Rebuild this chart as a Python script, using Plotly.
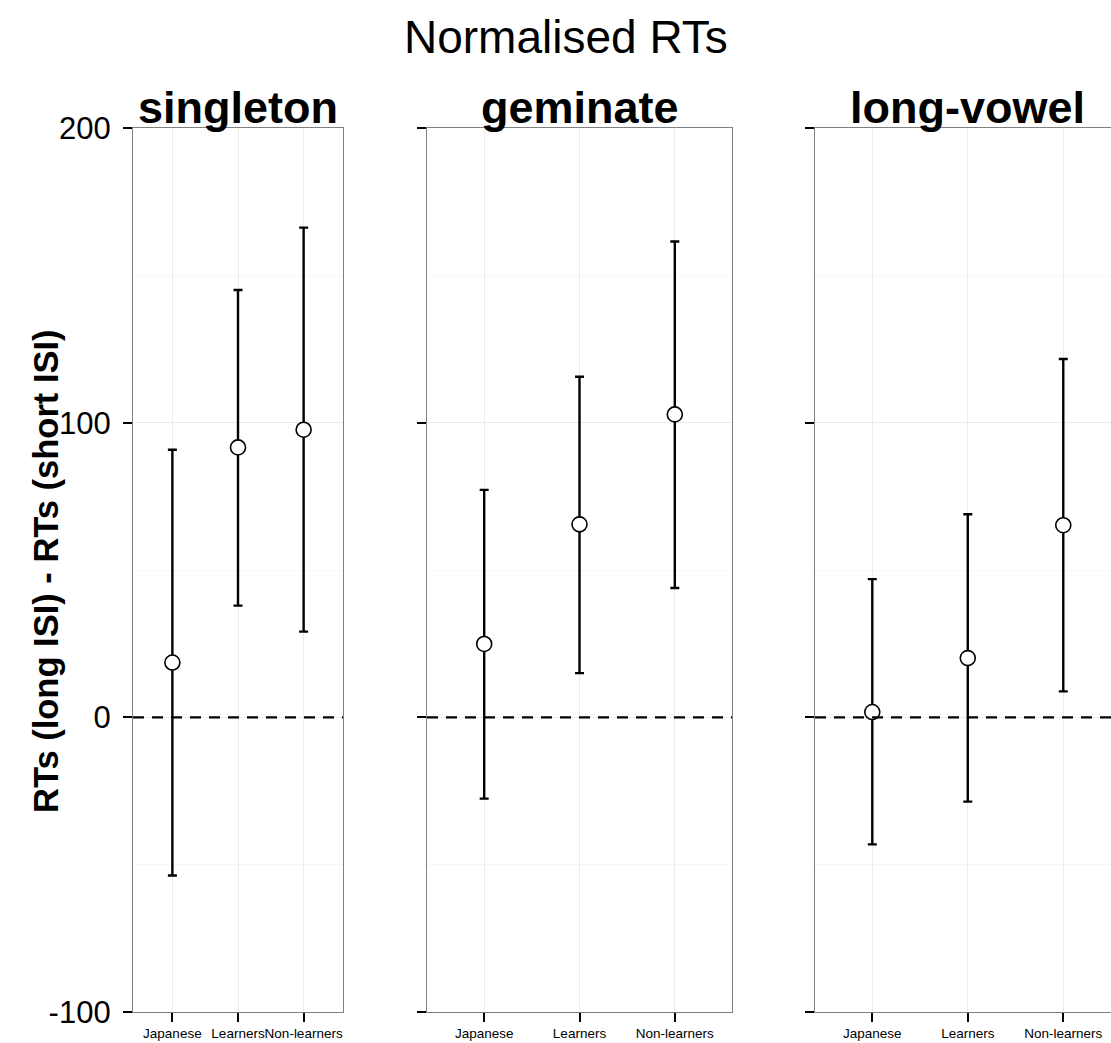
import plotly.graph_objects as go

W, H = 1111, 1043

groups = ["Japanese", "Learners", "Non-learners"]
facets = ["singleton", "geminate", "long-vowel"]

singleton_mean = [18.6, 91.6, 97.6]
singleton_upper = [90.8, 145.0, 166.2]
singleton_lower = [-53.7, 37.9, 29.1]

geminate_mean = [24.9, 65.5, 102.8]
geminate_upper = [77.2, 115.6, 161.5]
geminate_lower = [-27.6, 15.0, 43.9]

longvowel_mean = [1.8, 20.1, 65.2]
longvowel_upper = [46.9, 68.9, 121.6]
longvowel_lower = [-43.1, -28.6, 8.8]

y_ticks = [-100, 0, 100, 200]
y_tick_labels = ["-100", "0", "100", "200"]

means = [singleton_mean, geminate_mean, longvowel_mean]
uppers = [singleton_upper, geminate_upper, longvowel_upper]
lowers = [singleton_lower, geminate_lower, longvowel_lower]

# panel pixel extents
panels_px = [(133, 343), (427, 732), (815, 1111)]
xranges = [[-0.6, 2.6], [-0.6, 2.6], [-0.6, 2.5]]
top_px, bot_px = 128, 1012

FONT = "Liberation Sans, Arial, sans-serif"
fig = go.Figure()

for i in range(3):
    ax = "" if i == 0 else str(i + 1)
    m, u, l = means[i], uppers[i], lowers[i]
    fig.add_trace(go.Scatter(
        x=groups, y=m,
        xaxis="x" + ax, yaxis="y" + ax,
        mode="markers",
        marker=dict(symbol="circle", size=15, color="white",
                    line=dict(color="black", width=1.6)),
        error_y=dict(type="data", symmetric=False,
                     array=[uu - mm for uu, mm in zip(u, m)],
                     arrayminus=[mm - ll for mm, ll in zip(m, l)],
                     color="black", thickness=2.4, width=4.5),
        showlegend=False, cliponaxis=False,
    ))
    x0, x1 = panels_px[i]
    xa = dict(
        domain=[x0 / W, x1 / W], range=xranges[i],
        type="category", categoryorder="array", categoryarray=groups,
        showgrid=True, gridcolor="#EBEBEB", gridwidth=1,
        showline=True, linecolor="#808080", linewidth=1.3, mirror=True,
        ticks="outside", ticklen=9, tickwidth=2, tickcolor="black",
        tickangle=0, automargin=False,
        tickfont=dict(family=FONT, size=13.5, color="black"),
        anchor="y" + ax, zeroline=False, fixedrange=True,
    )
    ya = dict(
        domain=[(H - bot_px) / H, (H - top_px) / H], range=[-100, 200],
        tickvals=y_ticks, ticktext=y_tick_labels,
        showgrid=True, gridcolor="#EBEBEB", gridwidth=1,
        minor=dict(dtick=50, tick0=0, showgrid=True, gridcolor="#F7F7F7", ticks=""),
        showline=True, linecolor="#808080", linewidth=1.3, mirror=(i < 2),
        ticks="outside", ticklen=9, tickwidth=2, tickcolor="black",
        showticklabels=(i == 0), ticklabelstandoff=6, automargin=False,
        tickfont=dict(family=FONT, size=31, color="black"),
        anchor="x" + ax, zeroline=False, fixedrange=True,
    )
    fig.update_layout(**{"xaxis" + ax: xa, "yaxis" + ax: ya})
    fig.add_shape(type="line", xref="x" + ax + " domain", yref="y" + ax,
                  x0=0, x1=1, y0=0, y1=0,
                  line=dict(color="black", width=2.3, dash="11px,8px"), layer="above")
    fig.add_annotation(text="<b>" + facets[i] + "</b>", xref="paper", yref="paper",
                       x=((x0 + (x0 + (x1 - x0) / (xranges[i][1] - xranges[i][0]) * 3.2)) / 2) / W,
                       y=(H - 135) / H, xanchor="center", yanchor="bottom",
                       showarrow=False, font=dict(family=FONT, size=45, color="black"))

fig.add_annotation(text="Normalised RTs", xref="paper", yref="paper",
                   x=566 / W, y=(H - 9) / H, xanchor="center", yanchor="top",
                   showarrow=False, font=dict(family=FONT, size=46, color="black"))
fig.add_annotation(text="<b>RTs (long ISI) - RTs (short ISI)</b>", xref="paper", yref="paper",
                   x=46 / W, y=(H - 571) / H, xanchor="center", yanchor="middle",
                   textangle=-90, showarrow=False,
                   font=dict(family=FONT, size=34.5, color="black"))

fig.update_layout(template="none", width=W, height=H, margin=dict(l=0, r=0, t=0, b=0, autoexpand=False),
                  plot_bgcolor="white", paper_bgcolor="white")
fig.write_html("out.html")
